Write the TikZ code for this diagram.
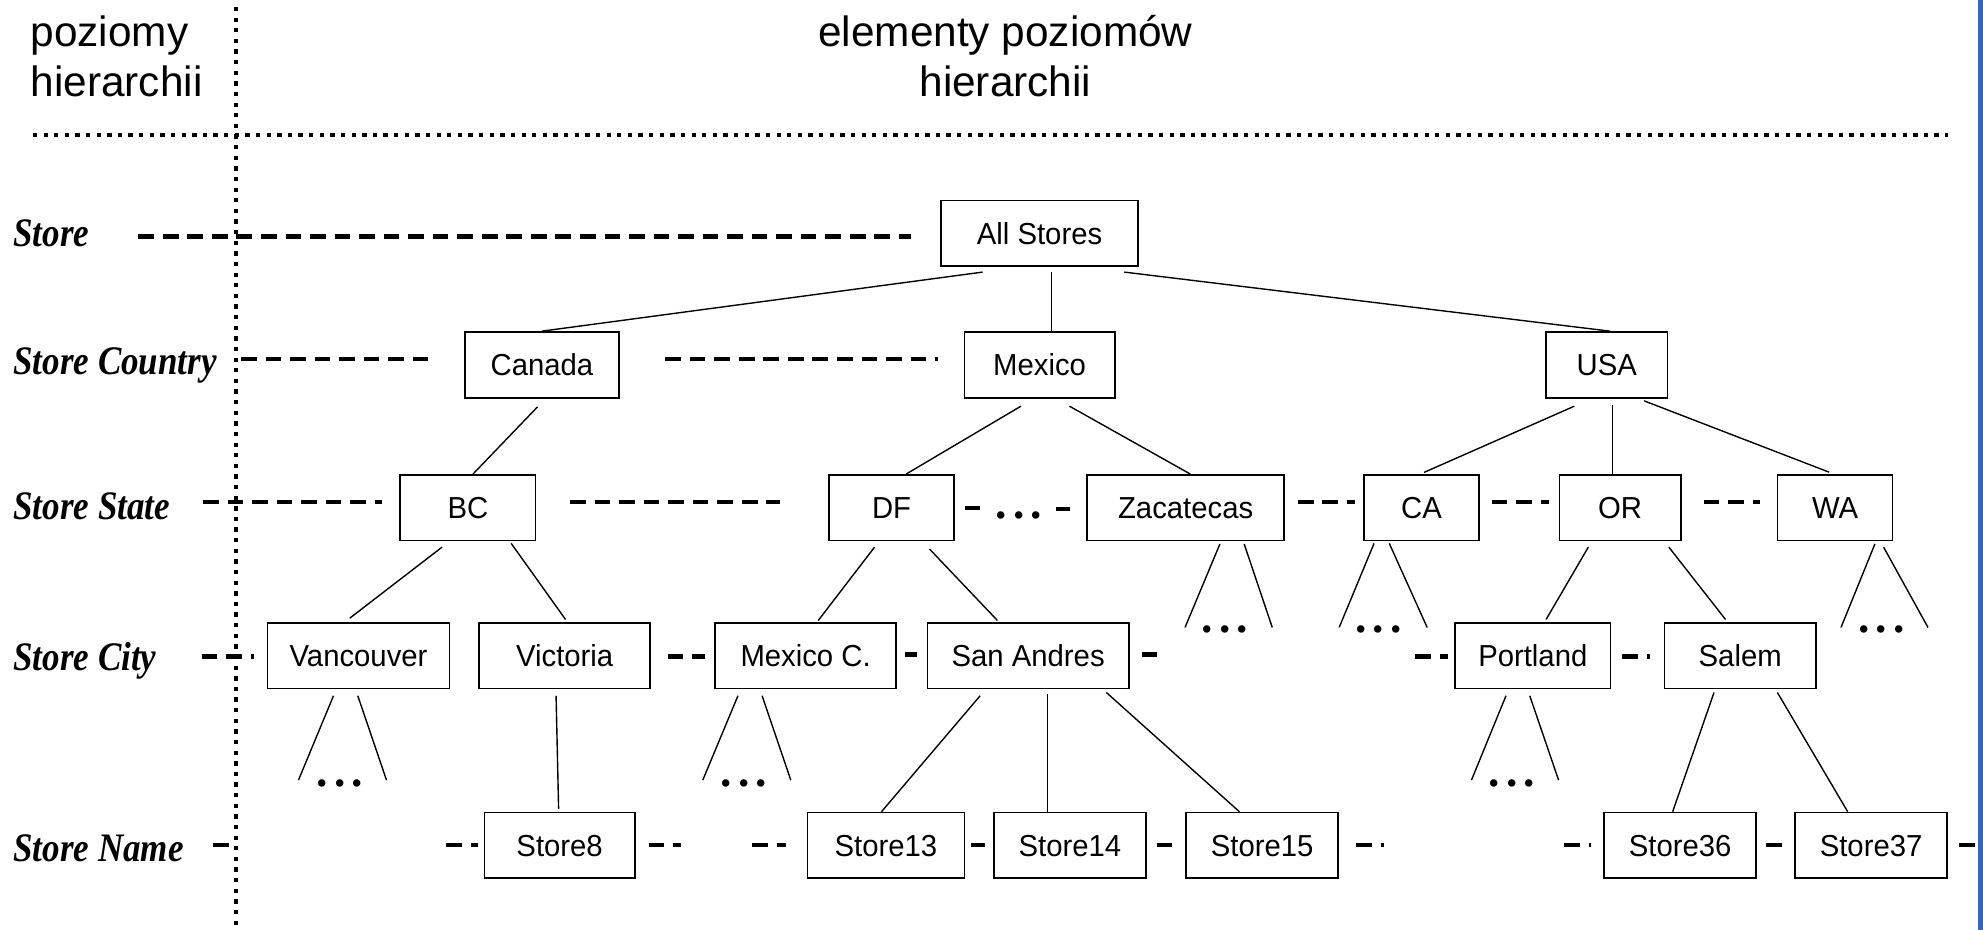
\documentclass[tikz,border=0pt]{standalone}
\usepackage{fontspec}
\newfontfamily\boxfont{Liberation Sans}[FakeStretch=0.965]
\newfontfamily\headfont{Liberation Sans}
\newfontfamily\levelfont{Liberation Serif}[FakeStretch=0.865]
\newfontfamily\dotsfont{Liberation Serif}
\usetikzlibrary{calc}
\definecolor{edgeblue}{RGB}{51,102,204}
\newcommand{\threedots}{.\kern4.8pt.\kern4.8pt.}
\begin{document}
\begin{tikzpicture}[x=1pt,y=-1pt,
  box/.style={draw, line width=1.3pt, minimum height=52pt, inner sep=0pt,
    text height=17pt, text depth=0pt, font=\boxfont\fontsize{24}{28}\selectfont},
  treeline/.style={line width=1.1pt},
  levelline/.style={line width=3.4pt, dash pattern=on 12.4pt off 7pt},
  dotline/.style={line width=3.3pt, dash pattern=on 3.4pt off 5pt},
  lvl/.style={anchor=base west, inner sep=0pt, font=\levelfont\bfseries\itshape\fontsize{32}{36}\selectfont},
  head/.style={inner sep=0pt, font=\headfont\fontsize{33.5}{39}\selectfont},
  dotsnode/.style={anchor=base, inner sep=0pt, font=\dotsfont\bfseries\fontsize{36}{40}\selectfont}]
\useasboundingbox (0,0) rectangle (1568,735);
\fill[edgeblue] (1564,0) rectangle (1568,735);

% headers
\node[head, anchor=base west] (hA1) at (24,37) {poziomy};
\node[head, anchor=base west] (hA2) at (24,76.4) {hierarchii};
\node[head, anchor=base] (hB1) at (795,37) {elementy poziomów};
\node[head, anchor=base] (hB2) at (795,76.4) {hierarchii};

% separators
\draw[dotline] (186.4,5.5) -- (186.4,735);
\draw[dotline] (26,106.7) -- (1540,106.7);

% level labels
\node[lvl] (lStore) at (10.5,195) {Store};
\node[lvl] (lCountry) at (10.5,296.5) {Store Country};
\node[lvl] (lState) at (10.5,411) {Store State};
\node[lvl] (lCity) at (10.5,530) {Store City};
\node[lvl] (lName) at (10.5,681.3) {Store Name};

% boxes
\node[box, minimum width=156pt] (AllStores) at (822,184.5) {All Stores};
\node[box, minimum width=122pt] (Canada) at (428.5,288.5) {Canada};
\node[box, minimum width=119pt] (Mexico) at (822,288.5) {Mexico};
\node[box, minimum width=96pt] (USA) at (1270.5,288.5) {USA};
\node[box, minimum width=107pt] (BC) at (370,401.5) {BC};
\node[box, minimum width=99pt] (DF) at (705,401.5) {DF};
\node[box, minimum width=156pt] (Zacatecas) at (937.5,401.5) {Zacatecas};
\node[box, minimum width=91pt] (CA) at (1124,401.5) {CA};
\node[box, minimum width=96pt] (OR) at (1281,401.5) {OR};
\node[box, minimum width=91pt] (WA) at (1451,401.5) {WA};
\node[box, minimum width=144pt] (Vancouver) at (283.5,518.5) {Vancouver};
\node[box, minimum width=135pt] (Victoria) at (446.5,518.5) {Victoria};
\node[box, minimum width=143pt] (MexicoC) at (637,518.5) {Mexico C.};
\node[box, minimum width=159pt] (SanAndres) at (813,518.5) {San Andres};
\node[box, minimum width=123pt] (Portland) at (1212,518.5) {Portland};
\node[box, minimum width=120pt] (Salem) at (1376,518.5) {Salem};
\node[box, minimum width=119pt] (Store8) at (442.5,668.5) {Store8};
\node[box, minimum width=124pt] (Store13) at (700.5,668.5) {Store13};
\node[box, minimum width=120pt] (Store14) at (846,668.5) {Store14};
\node[box, minimum width=120pt] (Store15) at (998,668.5) {Store15};
\node[box, minimum width=120pt] (Store36) at (1328.5,668.5) {Store36};
\node[box, minimum width=120pt] (Store37) at (1479.5,668.5) {Store37};

% level dashed lines
\draw[levelline] (109.4,187) -- (720,187);
\draw[levelline] (190.6,284) -- (345,284);
\draw[levelline] (526,284) -- (741.5,284);
\draw[levelline] (160.6,397) -- (301.8,397);
\draw[levelline] (450.8,397) -- (616.4,397);
\draw[levelline] (762.9,401.5) -- (775,401.5);
\draw[levelline] (834.7,402.5) -- (846.4,402.5);
\draw[levelline] (1026.3,397) -- (1071.5,397);
\draw[levelline] (1179.4,397) -- (1224.8,397);
\draw[levelline] (1347,397) -- (1392,397);
\draw[levelline] (159.4,519) -- (201,519);
\draw[levelline] (528,519) -- (557.2,519);
\draw[levelline] (715.3,517.5) -- (725.3,517.5);
\draw[levelline] (902.8,517.5) -- (914.8,517.5);
\draw[levelline] (1119.2,519) -- (1145,519);
\draw[levelline] (1282.8,519) -- (1304.4,519);
\draw[levelline] (168.5,668) -- (181,668);
\draw[levelline] (353,668) -- (378.2,668);
\draw[levelline] (512.8,668) -- (538.5,668);
\draw[levelline] (595,668) -- (621.8,668);
\draw[levelline] (768,668) -- (779,668);
\draw[levelline] (914.6,668) -- (927,668);
\draw[levelline] (1072.2,668) -- (1094.1,668);
\draw[levelline] (1236.9,668) -- (1258.2,668);
\draw[levelline] (1396.4,668) -- (1408.8,668);
\draw[levelline] (1549,668) -- (1561.6,668);

% tree edges
\draw[treeline] ([shift={(-45,4)}]AllStores.south) -- (Canada.north);
\draw[treeline] ([shift={(9.5,4)}]AllStores.south) -- ([shift={(9.5,0)}]Mexico.north);
\draw[treeline] ([shift={(67,4)}]AllStores.south) -- ([shift={(2.5,0)}]USA.north);
\draw[treeline] ([shift={(-3.5,6.6)}]Canada.south) -- ([shift={(4,0)}]BC.north);
\draw[treeline] ([shift={(-20.5,4.5)}]BC.south) -- ([shift={(-7,-3)}]Vancouver.north);
\draw[treeline] ([shift={(34.2,1.5)}]BC.south) -- ([shift={(0.7,-2)}]Victoria.north);
\draw[treeline] ([shift={(-14.7,6)}]Mexico.south) -- ([shift={(11.5,0)}]DF.north);
\draw[treeline] ([shift={(23.6,6)}]Mexico.south) -- ([shift={(3.7,0)}]Zacatecas.north);
\draw[treeline] ([shift={(-13.5,4.5)}]DF.south) -- ([shift={(10,-1.2)}]MexicoC.north);
\draw[treeline] ([shift={(30,6)}]DF.south) -- ([shift={(-24.3,-1.2)}]SanAndres.north);
\draw[treeline] ([shift={(-25.6,6)}]USA.south) -- ([shift={(2,-1.3)}]CA.north);
\draw[treeline] ([shift={(4.7,5)}]USA.south) -- ([shift={(-5.8,0)}]OR.north);
\draw[treeline] ([shift={(29.5,1.8)}]USA.south) -- ([shift={(-4.7,-1.5)}]WA.north);
\draw[treeline] ([shift={(-25.1,4.5)}]OR.south) -- ([shift={(10.5,-2)}]Portland.north);
\draw[treeline] ([shift={(38.6,4.5)}]OR.south) -- ([shift={(-11.6,-2)}]Salem.north);
\draw[treeline] ([shift={(-6.8,5)}]Victoria.south) -- ([shift={(-0.8,-2.3)}]Store8.north);
\draw[treeline] ([shift={(-38,5)}]SanAndres.south) -- ([shift={(-3.5,0)}]Store13.north);
\draw[treeline] ([shift={(15.4,3.7)}]SanAndres.south) -- ([shift={(-17.6,0)}]Store14.north);
\draw[treeline] ([shift={(61.8,2.4)}]SanAndres.south) -- ([shift={(-18,0)}]Store15.north);
\draw[treeline] ([shift={(-20.7,2.4)}]Salem.south) -- ([shift={(-5.9,0)}]Store36.north);
\draw[treeline] ([shift={(29.4,2.4)}]Salem.south) -- ([shift={(-18.5,0)}]Store37.north);

% fans with ellipses
\draw[treeline] ([shift={(27.1,2)}]Zacatecas.south) -- ++(-27.6,66);
\draw[treeline] ([shift={(46.3,2)}]Zacatecas.south) -- ++(22.2,66);
\draw[treeline] ([shift={(-37.5,1.5)}]CA.south) -- ++(-27.6,66.5);
\draw[treeline] ([shift={(-25.5,1.5)}]CA.south) -- ++(30,66.5);
\draw[treeline] ([shift={(31.5,2)}]WA.south) -- ++(-26.8,66);
\draw[treeline] ([shift={(38.4,4.5)}]WA.south) -- ++(35.1,63.5);
\draw[treeline] ([shift={(-19.8,5)}]Vancouver.south) -- ++(-27.7,66.7);
\draw[treeline] ([shift={(-0.6,5)}]Vancouver.south) -- ++(22.7,66.7);
\draw[treeline] ([shift={(-53.5,5)}]MexicoC.south) -- ++(-27.8,66.7);
\draw[treeline] ([shift={(-34.4,5)}]MexicoC.south) -- ++(22.7,66.7);
\draw[treeline] ([shift={(-21.2,5)}]Portland.south) -- ++(-27.3,66.7);
\draw[treeline] ([shift={(-2.4,5)}]Portland.south) -- ++(22.8,66.7);

\node[dotsnode] (dZac) at (968.6,500.5) {\threedots};
\node[dotsnode] (dCA) at (1090,500.5) {\threedots};
\node[dotsnode] (dWA) at (1487.6,500.5) {\threedots};
\node[dotsnode] (dVan) at (268.8,621.8) {\threedots};
\node[dotsnode] (dMexC) at (588.4,621.8) {\threedots};
\node[dotsnode] (dPort) at (1195.5,621.8) {\threedots};
\node[dotsnode] (dState) at (805.7,409.6) {\threedots};
\end{tikzpicture}
\end{document}
